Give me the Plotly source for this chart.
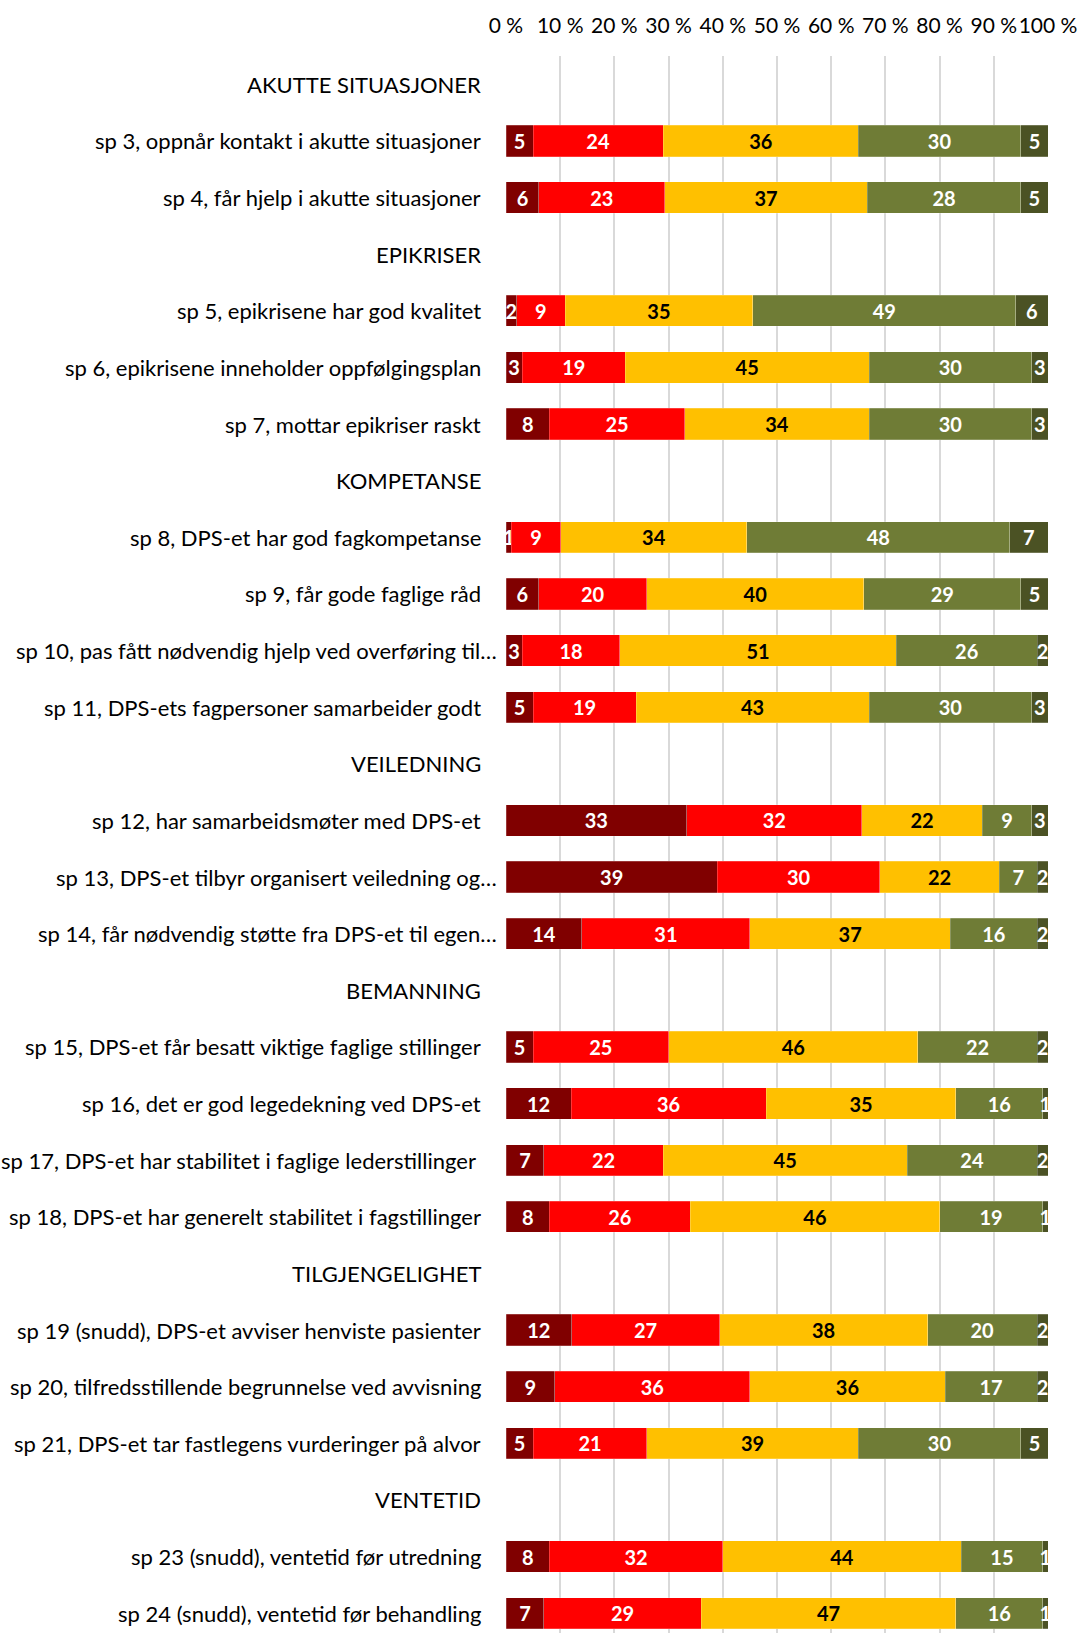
import plotly.graph_objects as go

rows = [
    "AKUTTE SITUASJONER",
    "sp 3, oppnår kontakt i akutte situasjoner",
    "sp 4, får hjelp i akutte situasjoner",
    "EPIKRISER",
    "sp 5, epikrisene har god kvalitet",
    "sp 6, epikrisene inneholder oppfølgingsplan",
    "sp 7, mottar epikriser raskt",
    "KOMPETANSE",
    "sp 8, DPS-et har god fagkompetanse",
    "sp 9, får gode faglige råd",
    "sp 10, pas fått nødvendig hjelp ved overføring til…",
    "sp 11, DPS-ets fagpersoner samarbeider godt",
    "VEILEDNING",
    "sp 12, har samarbeidsmøter med DPS-et",
    "sp 13, DPS-et tilbyr organisert veiledning og…",
    "sp 14, får nødvendig støtte fra DPS-et til egen…",
    "BEMANNING",
    "sp 15, DPS-et får besatt viktige faglige stillinger",
    "sp 16, det er god legedekning ved DPS-et",
    "sp 17, DPS-et har stabilitet i faglige lederstillinger\u00a0",
    "sp 18, DPS-et har generelt stabilitet i fagstillinger",
    "TILGJENGELIGHET",
    "sp 19 (snudd), DPS-et avviser henviste pasienter",
    "sp 20, tilfredsstillende begrunnelse ved avvisning",
    "sp 21, DPS-et tar fastlegens vurderinger på alvor",
    "VENTETID",
    "sp 23 (snudd), ventetid før utredning",
    "sp 24 (snudd), ventetid før behandling",
]

N = None
s1 = [N, 5, 6, N, 2, 3, 8, N, 1, 6, 3, 5, N, 33, 39, 14, N, 5, 12, 7, 8, N, 12, 9, 5, N, 8, 7]
s2 = [N, 24, 23, N, 9, 19, 25, N, 9, 20, 18, 19, N, 32, 30, 31, N, 25, 36, 22, 26, N, 27, 36, 21, N, 32, 29]
s3 = [N, 36, 37, N, 35, 45, 34, N, 34, 40, 51, 43, N, 22, 22, 37, N, 46, 35, 45, 46, N, 38, 36, 39, N, 44, 47]
s4 = [N, 30, 28, N, 49, 30, 30, N, 48, 29, 26, 30, N, 9, 7, 16, N, 22, 16, 24, 19, N, 20, 17, 30, N, 15, 16]
s5 = [N, 5, 5, N, 6, 3, 3, N, 7, 5, 2, 3, N, 3, 2, 2, N, 2, 1, 2, 1, N, 2, 2, 5, N, 1, 1]

series = [s1, s2, s3, s4, s5]
colors = ["#800000", "#FF0000", "#FFC000", "#6F7C36", "#4B5224"]
text_colors = ["white", "white", "black", "white", "white"]

xticks = list(range(0, 101, 10))
xticklabels = [f"{v} %" for v in xticks]

ypos = list(range(len(rows)))
FONT = "Lato, Carlito, Calibri, sans-serif"

fig = go.Figure()
for vals, col, tcol in zip(series, colors, text_colors):
    fig.add_trace(go.Bar(
        y=ypos, x=vals, orientation="h",
        marker=dict(color=col, line=dict(width=0.6, color="rgba(255,255,255,0.35)")),
        width=0.55,
        text=[("" if v is None else str(v)) for v in vals],
        texttemplate="%{text}",
        textposition="inside",
        insidetextanchor="middle",
        textangle=0,
        constraintext="none",
        textfont=dict(family=FONT, size=20, color=tcol, weight="bold"),
        cliponaxis=True,
        hoverinfo="skip",
        showlegend=False,
    ))

annotations = []
for i, lab in enumerate(rows):
    shift = -7 if lab.endswith("…") else -23
    annotations.append(dict(
        x=0, xref="paper", y=i, yref="y", text=lab, showarrow=False,
        xanchor="right", yanchor="middle", xshift=shift,
        font=dict(family=FONT, size=22, color="#000000"),
    ))

fig.update_layout(
    barmode="stack",
    barnorm="percent",
    width=1078, height=1633,
    margin=dict(l=506, r=30, t=56, b=0),
    paper_bgcolor="white", plot_bgcolor="white",
    uniformtext=dict(minsize=20, mode="show"),
    annotations=annotations,
    xaxis=dict(
        side="top", range=[0, 100], tickvals=xticks, ticktext=xticklabels,
        showgrid=True, gridcolor="#D9D9D9", gridwidth=2,
        zeroline=False, showline=False, ticks="",
        tickangle=0, automargin=False,
        ticklabelstandoff=18,
        tickfont=dict(family=FONT, size=21, color="#000000"),
        fixedrange=True,
    ),
    yaxis=dict(
        range=[27.35, -0.5], showticklabels=False, showgrid=False,
        zeroline=False, showline=False, ticks="", fixedrange=True,
        automargin=False,
    ),
)

fig.write_html("out.html")
